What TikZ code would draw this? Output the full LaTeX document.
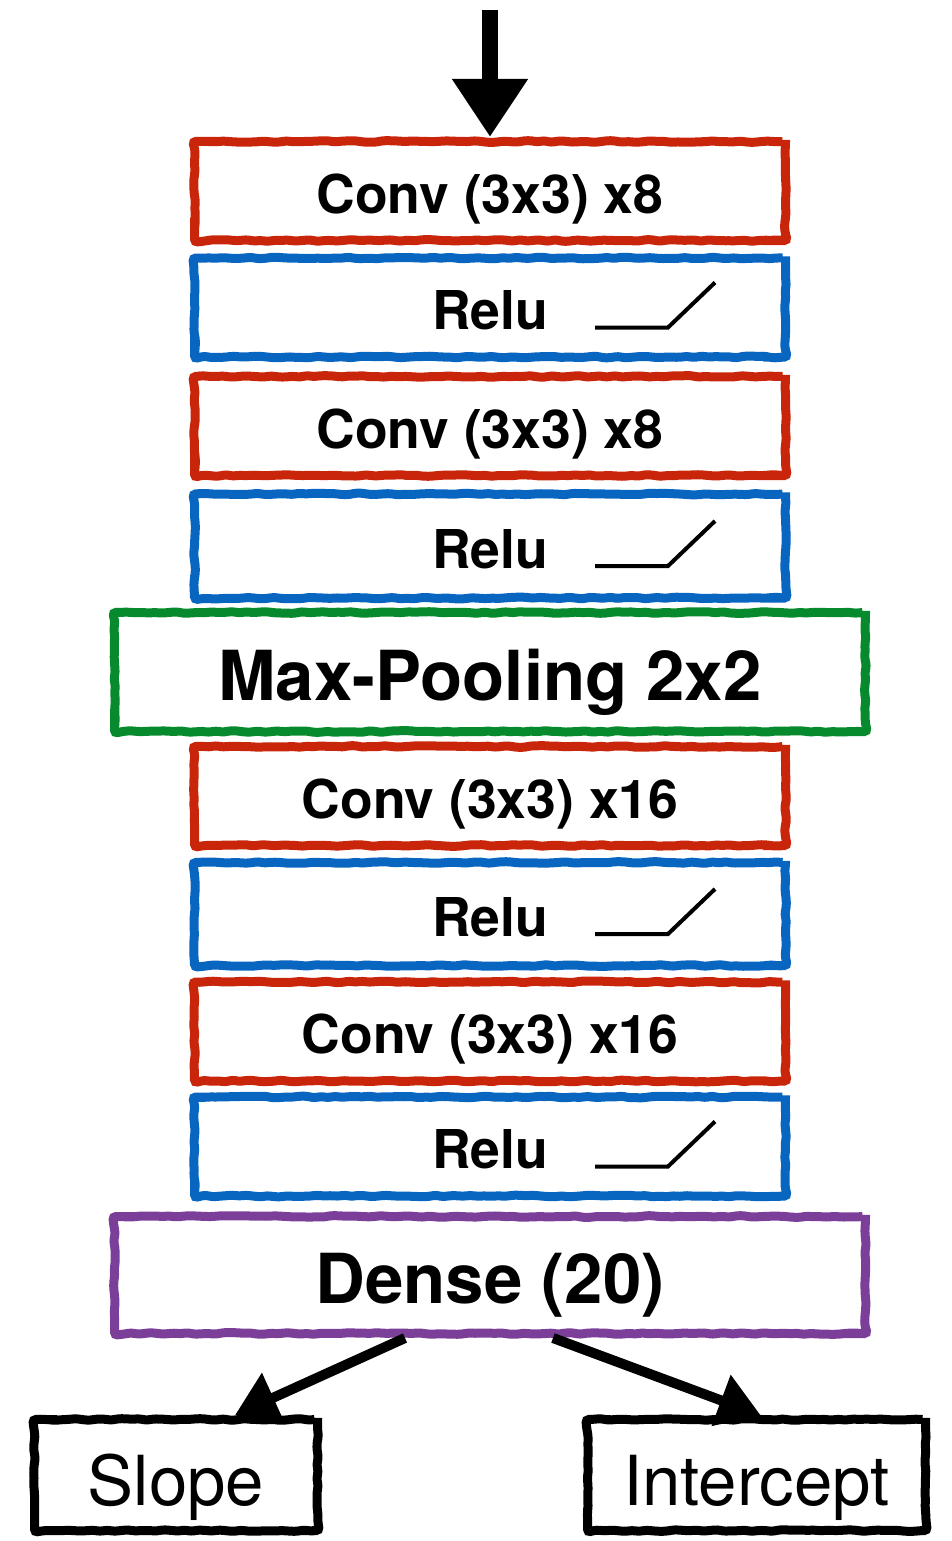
\documentclass[tikz,border=0pt]{standalone}
\usepackage{fontspec}
\setmainfont{TeX Gyre Heros}
\usetikzlibrary{arrows.meta,decorations.pathmorphing,calc}
\definecolor{cred}{HTML}{C8250A}
\definecolor{cblue}{HTML}{0866C0}
\definecolor{cgreen}{HTML}{078A2E}
\definecolor{cpurple}{HTML}{7B3F9A}
\tikzset{
  rough/.style={draw, line width=9pt, fill=white, rounded corners=3pt, decorate,
    decoration={random steps, segment length=7pt, amplitude=0.9pt}, inner sep=0pt,
    text depth=0pt},
  layer/.style={rough, minimum width=591pt, minimum height=99pt, text height=44pt,
    font=\bfseries\fontsize{53.5}{60}\selectfont},
  wide/.style={rough, minimum width=751pt, minimum height=119pt, text height=57pt,
    font=\bfseries\fontsize{69}{80}\selectfont},
  convbox/.style={layer, draw=cred},
  relubox/.style={layer, draw=cblue},
  outbox/.style={rough, draw=black, minimum height=111pt, text height=61pt,
    font=\fontsize{69}{78}\selectfont},
  reluline/.style={line width=4pt},
  bigarrow/.style={line width=16pt, -{Triangle[length=58pt,width=72pt]}},
  outarrow/.style={line width=10pt, -{Triangle[length=42pt,width=52pt]}},
}
\newcommand\reluicon[1]{\draw[reluline] ([shift={(105pt,-20pt)}]#1.center) -- ++(73pt,0pt) -- ++(47pt,45pt);}
\begin{document}
\begin{tikzpicture}[x=1pt,y=-1pt]
\pgfmathsetseed{7}
\useasboundingbox (0,0) rectangle (952,1541);
\node[convbox] (conv1) at (490,191) {Conv (3x3) x8};
\node[relubox] (relu1) at (490,307.5) {Relu};
\node[convbox] (conv2) at (490,426) {Conv (3x3) x8};
\node[relubox, minimum height=104pt] (relu2) at (490,546) {Relu};
\node[wide, draw=cgreen] (pool) at (490,672) {Max-Pooling 2x2};
\node[convbox] (conv3) at (490,796) {Conv (3x3) x16};
\node[relubox, minimum height=103pt] (relu3) at (490,914) {Relu};
\node[convbox] (conv4) at (490,1031.5) {Conv (3x3) x16};
\node[relubox] (relu4) at (490,1146.5) {Relu};
\node[wide, draw=cpurple, minimum height=117pt] (dense) at (490,1275) {Dense (20)};
\node[outbox, minimum width=283pt] (slope) at (176,1475) {Slope};
\node[outbox, minimum width=338pt] (icpt) at (756.5,1475) {Intercept};
\reluicon{relu1}
\reluicon{relu2}
\reluicon{relu3}
\reluicon{relu4}
\coordinate (in) at (490,10);
\draw[bigarrow] (in) -- (conv1.north);
\draw[outarrow] ([xshift=-85pt]dense.south) -- ([xshift=59pt]slope.north);
\draw[outarrow] ([xshift=63pt]dense.south) -- ([xshift=4pt]icpt.north);
\end{tikzpicture}
\end{document}
